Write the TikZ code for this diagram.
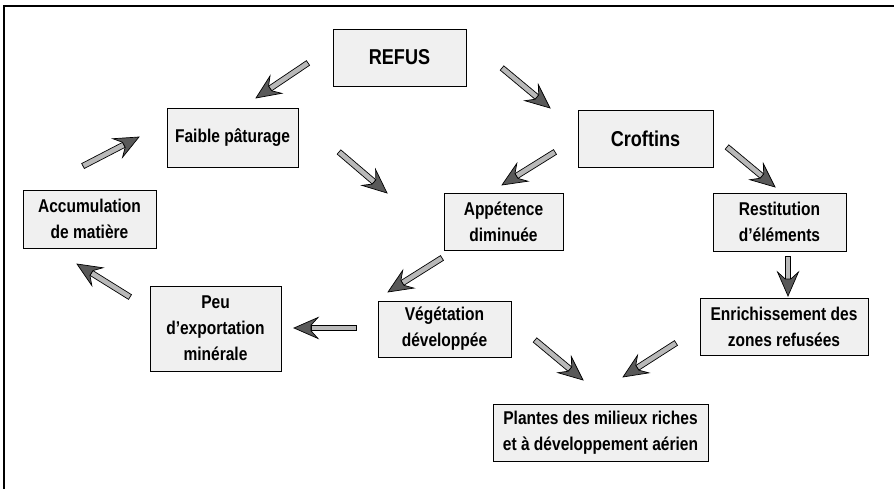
\documentclass[tikz,border=0pt]{standalone}
\usepackage{fontspec}
\setmainfont{Liberation Sans}[FakeStretch=0.84]
\usetikzlibrary{calc}
\tikzset{
  x=1pt, y=-1pt,
  box/.style={draw=black, line width=0.9pt, fill=gray!12, inner sep=0pt, align=center,
     font=\fontsize{18.5}{26}\selectfont\bfseries, text=black},
  bigbox/.style={box, font=\fontsize{21.5}{24}\selectfont\bfseries},
  fatarrow/.style={draw=black, line width=0.7pt, fill=gray!55, line join=miter},
  fathead/.style={draw=black, line width=0.7pt, fill=black!65, line join=miter},
  frameline/.style={line width=2pt, black}
}
\newcommand\fatarr[3]{%
  \coordinate (#3b) at ($(#2)!17pt!(#1)$);
  \coordinate (#3c) at ($(#2)!24pt!(#1)$);
  \draw[fatarrow] ($(#1)!2.8pt!90:(#2)$) -- ($(#3b)!2.8pt!-90:(#1)$)
     -- ($(#3b)!2.8pt!90:(#1)$) -- ($(#1)!2.8pt!-90:(#2)$) -- cycle;
  \draw[fathead] ($(#3b)!2.8pt!-90:(#1)$)
     -- ($(#3c)!10.5pt!-90:(#1)$) -- (#2) -- ($(#3c)!10.5pt!90:(#1)$)
     -- ($(#3b)!2.8pt!90:(#1)$) -- cycle;
}
\begin{document}
\begin{tikzpicture}
\useasboundingbox (0,0) rectangle (894,489);
\coordinate (fa) at (4,489);
\coordinate (fb) at (4,6);
\coordinate (fc) at (894,6);
\draw[frameline] (fa) -- (fb) -- (fc);

\node[bigbox, minimum width=133, minimum height=57] (refus) at (399.5,57.5) {REFUS};
\node[box, minimum width=131, minimum height=59] (faible) at (232.5,137.5) {Faible pâturage};
\node[bigbox, minimum width=135, minimum height=57] (crottins) at (645.5,138.5) {Croftins};
\node[box, minimum width=133, minimum height=58] (accum) at (89.5,219) {Accumulation\\de matière};
\node[box, minimum width=119, minimum height=57] (appet) at (503.5,221.5) {Appétence\\diminuée};
\node[box, minimum width=133, minimum height=58] (restit) at (779.5,222) {Restitution\\d'éléments};
\node[box, minimum width=131, minimum height=85] (peu) at (215.5,328.5) {Peu\\d'exportation\\minérale};
\node[box, minimum width=133, minimum height=56] (veget) at (444.5,329) {Végétation\\développée};
\node[box, minimum width=168, minimum height=57] (enrich) at (784,326.5) {Enrichissement des\\zones refusées};
\node[box, minimum width=215, minimum height=57] (plantes) at (600.5,432.5) {Plantes des milieux riches\\et à développement aérien};

% arrow end points
\coordinate (a1s) at (308,63);  \coordinate (a1e) at (256,98);
\coordinate (a2s) at (502,68);  \coordinate (a2e) at (550,108);
\coordinate (a3s) at (83,166);  \coordinate (a3e) at (139,137);
\coordinate (a4s) at (339,152); \coordinate (a4e) at (387,193);
\coordinate (a5s) at (555,152); \coordinate (a5e) at (502,185);
\coordinate (a6s) at (727,147); \coordinate (a6e) at (775,187);
\coordinate (a7s) at (442,258); \coordinate (a7e) at (388,292);
\coordinate (a8s) at (130,297); \coordinate (a8e) at (77,264);
\coordinate (a9s) at (356,328); \coordinate (a9e) at (294,328);
\coordinate (a10s) at (788,256); \coordinate (a10e) at (788,296);
\coordinate (a11s) at (535,340); \coordinate (a11e) at (583,380);
\coordinate (a12s) at (676,343); \coordinate (a12e) at (623,377);

\fatarr{a1s}{a1e}{q1}
\fatarr{a2s}{a2e}{q2}
\fatarr{a3s}{a3e}{q3}
\fatarr{a4s}{a4e}{q4}
\fatarr{a5s}{a5e}{q5}
\fatarr{a6s}{a6e}{q6}
\fatarr{a7s}{a7e}{q7}
\fatarr{a8s}{a8e}{q8}
\fatarr{a9s}{a9e}{q9}
\fatarr{a10s}{a10e}{q10}
\fatarr{a11s}{a11e}{q11}
\fatarr{a12s}{a12e}{q12}
\end{tikzpicture}
\end{document}
